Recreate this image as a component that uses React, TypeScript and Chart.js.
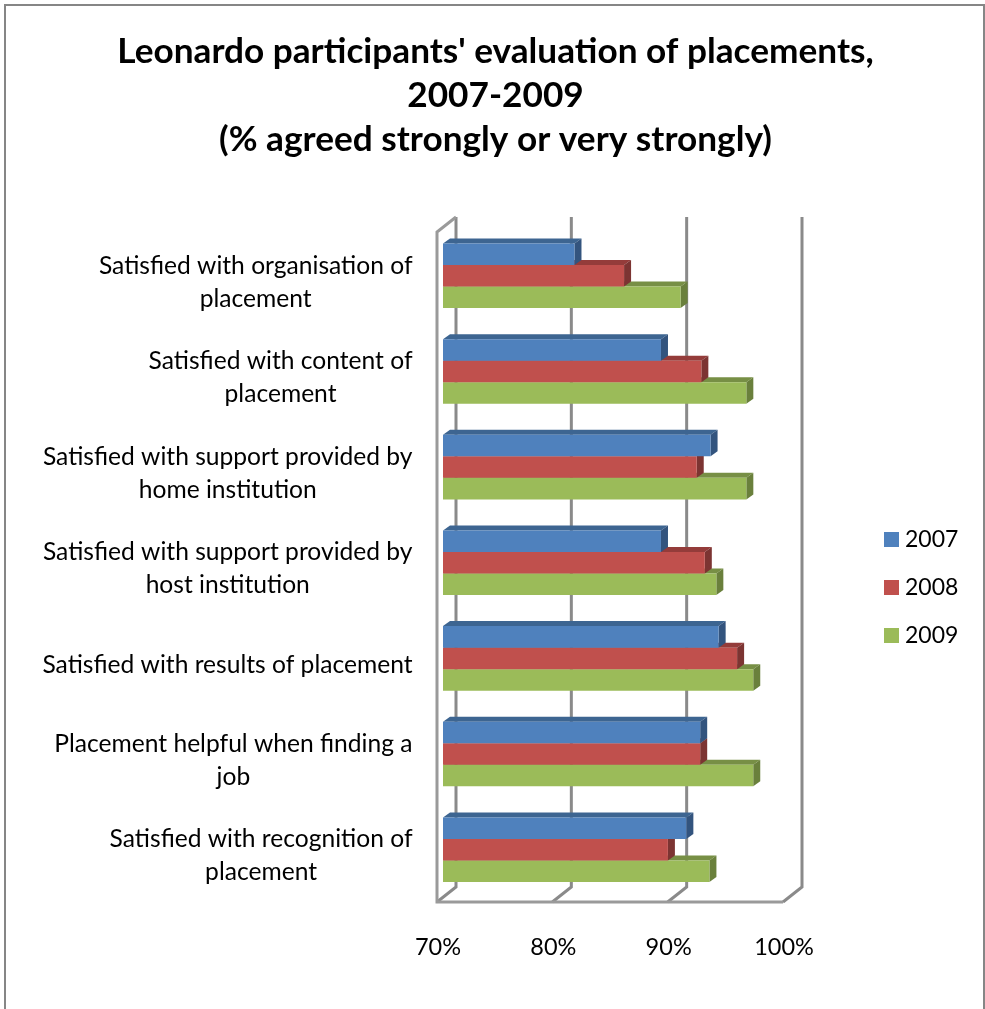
import React, { useEffect, useRef } from "react";
import { Chart, registerables } from "chart.js";

Chart.register(...registerables);

const titleLines = [
  "Leonardo participants' evaluation of placements,",
  "2007-2009",
  "(% agreed strongly or very strongly)",
];
const categories = [
  ["Satisfied with organisation of", "placement"],
  ["Satisfied with content of", "placement"],
  ["Satisfied with support provided by", "home institution"],
  ["Satisfied with support provided by", "host institution"],
  ["Satisfied with results of placement"],
  ["Placement helpful when finding a", "job"],
  ["Satisfied with recognition of", "placement"],
];
const values2007 = [81.4, 88.9, 93.2, 88.9, 93.9, 92.3, 91.1];
const values2008 = [85.7, 92.4, 92.0, 92.7, 95.5, 92.3, 89.5];
const values2009 = [90.6, 96.3, 96.3, 93.7, 96.9, 96.9, 93.1];
const xTicks = [70, 80, 90, 100];

const FONT = "Lato";
const LABEL_SIZE = 24.6;
const TICK_SIZE = 23.5;
const LEGEND_SIZE = 23;
const shades: Record<string, { top: string; side: string }> = {
  "2007": { top: "#3d6591", side: "#33547e" },
  "2008": { top: "#943c3a", side: "#7c3432" },
  "2009": { top: "#778f45", side: "#6a803c" },
};

function swatch(color: string) {
  const cv = document.createElement("canvas");
  cv.width = 15;
  cv.height = 15;
  const c = cv.getContext("2d") as CanvasRenderingContext2D;
  c.fillStyle = color;
  c.fillRect(0, 0, 15, 15);
  return cv;
}

const chart3d = {
  id: "chart3d",
  afterLayout(chart: any) {
    chart.titleBlock.left = 0;
    chart.titleBlock.right = 991;
    const lg = chart.legend;
    lg.left = 864.5;
    lg.right = 985;
    lg.top = 503;
    lg.bottom = 680;
  },
  beforeDraw(chart: any) {
    const c = chart.ctx;
    c.save();
    c.fillStyle = "#ffffff";
    c.fillRect(0, 0, chart.width, chart.height);
    c.strokeStyle = "#868686";
    c.lineWidth = 2;
    c.strokeRect(5, 5, 979, 1100);
    c.restore();
  },
  beforeDatasetsDraw(chart: any) {
    const c = chart.ctx;
    const x = chart.scales.x;
    const backDx = 13, frontDx = -6;
    const backTop = 217, backBottom = 887, frontTop = 232, frontBottom = 902;
    c.save();
    c.lineCap = "butt";
    c.strokeStyle = "#8a8a8a";
    c.lineWidth = 3;
    xTicks.forEach((t) => {
      const p = x.getPixelForValue(t);
      c.beginPath();
      c.moveTo(p + backDx, backTop);
      c.lineTo(p + backDx, backBottom);
      c.lineTo(p + frontDx, frontBottom);
      c.stroke();
    });
    const l = x.getPixelForValue(70);
    const r = x.getPixelForValue(100);
    c.strokeStyle = "#9a9a9a";
    c.beginPath();
    c.moveTo(l + backDx, backTop);
    c.lineTo(l + frontDx, frontTop);
    c.lineTo(l + frontDx, frontBottom);
    c.lineTo(r + frontDx, frontBottom);
    c.stroke();
    c.restore();
  },
  beforeDatasetDraw(chart: any, args: any) {
    const c = chart.ctx;
    const meta = args.meta;
    const shade = shades[chart.data.datasets[args.index].label];
    const dx = 7, dy = 5;
    const left = chart.scales.x.getPixelForValue(70);
    c.save();
    meta.data.forEach((el: any) => {
      const { x, y, height } = el.getProps(["x", "y", "height"], true);
      const t = y - height / 2;
      const b = y + height / 2;
      c.fillStyle = shade.top;
      c.beginPath();
      c.moveTo(left, t);
      c.lineTo(left + dx, t - dy);
      c.lineTo(x + dx, t - dy);
      c.lineTo(x, t);
      c.closePath();
      c.fill();
      c.fillStyle = shade.side;
      c.beginPath();
      c.moveTo(x, t);
      c.lineTo(x + dx, t - dy);
      c.lineTo(x + dx, b - dy);
      c.lineTo(x, b);
      c.closePath();
      c.fill();
    });
    c.restore();
  },
  afterDraw(chart: any) {
    const c = chart.ctx;
    const y = chart.scales.y;
    c.save();
    c.font = `${LABEL_SIZE}px ${FONT}`;
    c.fillStyle = "#000000";
    c.textAlign = "center";
    c.textBaseline = "middle";
    categories.forEach((lines, i) => {
      const widest = Math.max(...lines.map((s) => c.measureText(s).width));
      const cx = 412.5 - widest / 2;
      const cy = y.getPixelForValue(i) + 6.3;
      lines.forEach((s, j) => {
        c.fillText(s, cx, cy + (j - (lines.length - 1) / 2) * 33);
      });
    });
    c.restore();
  },
};

export default function App() {
  const ref = useRef<HTMLCanvasElement>(null);
  useEffect(() => {
    const chart = new Chart(ref.current as HTMLCanvasElement, {
      type: "bar",
      data: {
        labels: categories as any,
        datasets: [
          { label: "2007", data: values2007, backgroundColor: "#4f81bd", base: 70 },
          { label: "2008", data: values2008, backgroundColor: "#c0504d", base: 70 },
          { label: "2009", data: values2009, backgroundColor: "#9bbb59", base: 70 },
        ],
      },
      options: {
        indexAxis: "y",
        animation: false,
        responsive: false,
        layout: { padding: { left: 0, right: 196, top: 0, bottom: 0 } },
        datasets: { bar: { categoryPercentage: 0.675, barPercentage: 1 } },
        scales: {
          x: {
            min: 70,
            max: 100,
            grid: { display: false },
            border: { display: false },
            afterBuildTicks(axis: any) {
              axis.ticks = xTicks.map((value) => ({ value }));
            },
            afterFit(axis: any) {
              axis.height = 1009 - 897.5;
            },
            ticks: {
              maxRotation: 0,
              autoSkip: false,
              padding: 28,
              labelOffset: -5,
              color: "#000000",
              font: { family: FONT, size: TICK_SIZE },
              callback: (v: any) => `${v}%`,
            },
          },
          y: {
            grid: { display: false },
            border: { display: false },
            ticks: { display: false },
            afterFit(axis: any) {
              axis.width = 443;
            },
          },
        },
        plugins: {
          tooltip: { enabled: false },
          title: {
            display: true,
            text: titleLines,
            color: "#000000",
            font: { family: FONT, size: 35.2, weight: "bold", lineHeight: 44 / 35.2 },
            padding: { top: 30, bottom: 66 },
          },
          legend: {
            position: "chartArea",
            align: "start",
            labels: {
              usePointStyle: true,
              pointStyleWidth: 4,
              boxHeight: 15,
              padding: 25,
              color: "#000000",
              font: { family: FONT, size: LEGEND_SIZE },
              generateLabels(ch: any) {
                return Chart.defaults.plugins.legend.labels.generateLabels(ch).map((item: any) => ({
                  ...item,
                  pointStyle: swatch(item.fillStyle),
                }));
              },
            },
          },
        },
      },
      plugins: [chart3d],
    } as any);
    return () => chart.destroy();
  }, []);
  return (
    <div style={{ position: "absolute", left: 0, top: 0, width: 985, height: 1009, overflow: "hidden", background: "#fff" }}>
      <canvas ref={ref} width={985} height={1009} style={{ display: "block" }} />
    </div>
  );
}
